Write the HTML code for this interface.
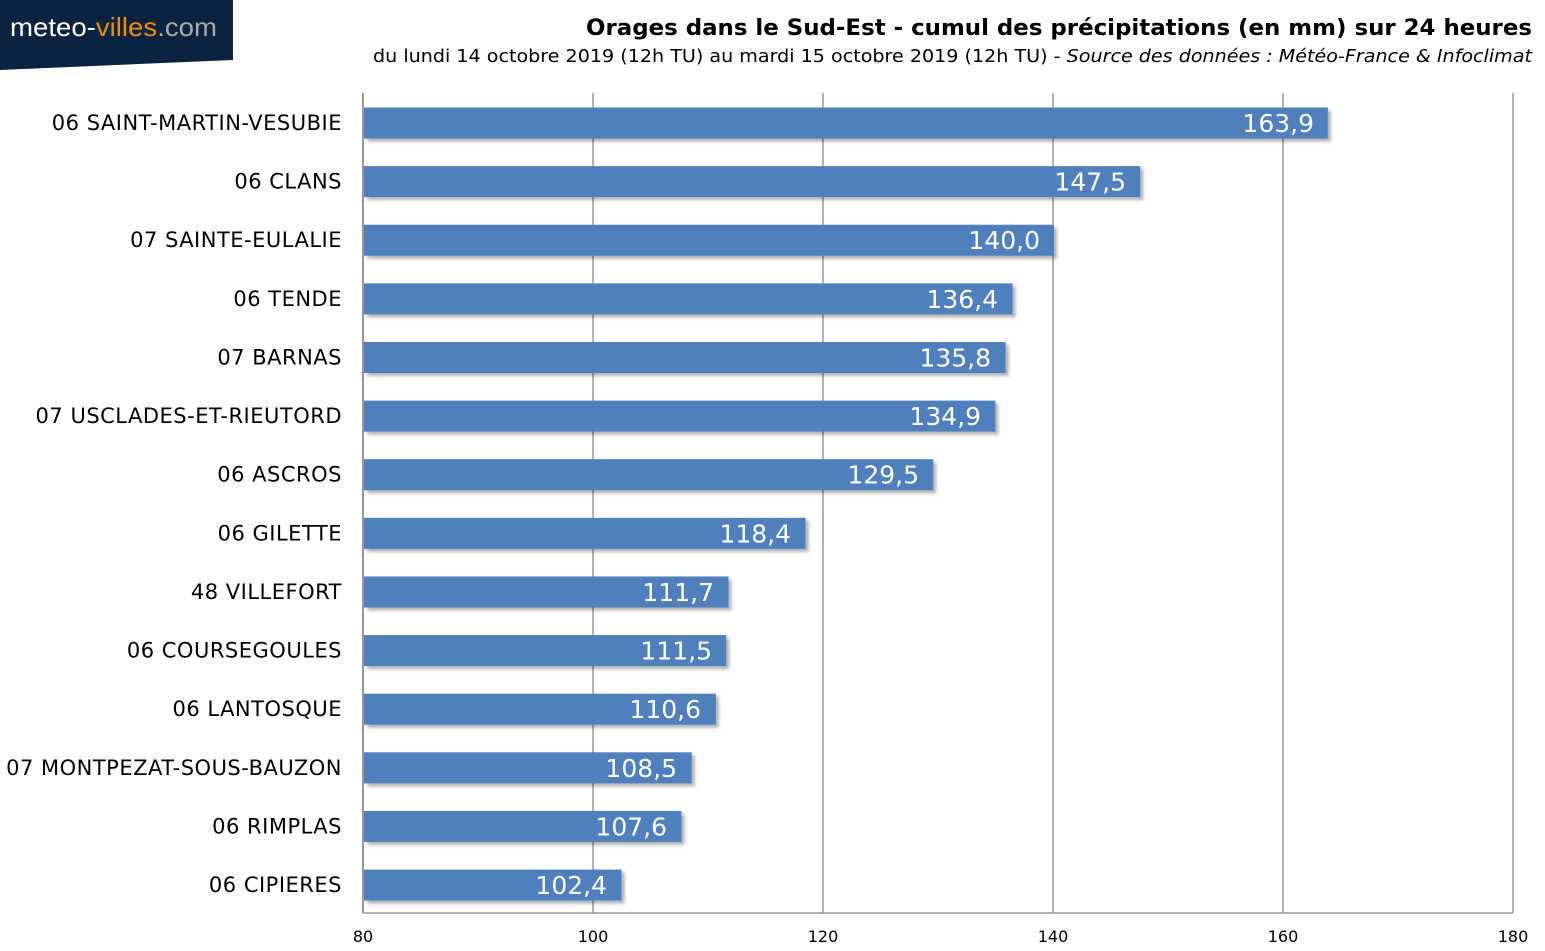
<!DOCTYPE html>
<html><head><meta charset="utf-8"><style>
body{margin:0;background:#fff;}
svg{display:block;font-family:"DejaVu Sans","Liberation Sans",sans-serif;}
</style></head><body>
<svg width="1545" height="951" viewBox="0 0 1545 951" xmlns="http://www.w3.org/2000/svg">
<defs><filter id="sh" x="-5%" y="-20%" width="110%" height="150%"><feDropShadow dx="3" dy="3" stdDeviation="1.5" flood-color="#000" flood-opacity="0.3"/></filter></defs>
<polygon points="0,0 233,0 233,60 0,70" fill="#0b2240"/>
<text x="10" y="36" font-size="26" fill="#fff" font-family="Liberation Sans, sans-serif" textLength="207" lengthAdjust="spacingAndGlyphs">meteo-<tspan fill="#e8900c">villes</tspan><tspan fill="#aaa">.com</tspan></text>
<text x="586" y="35" font-size="22" font-weight="bold" textLength="946" lengthAdjust="spacingAndGlyphs">Orages dans le Sud-Est - cumul des précipitations (en mm) sur 24 heures</text>
<text x="373" y="62" font-size="18" textLength="1159" lengthAdjust="spacingAndGlyphs">du lundi 14 octobre 2019 (12h TU) au mardi 15 octobre 2019 (12h TU) - <tspan font-style="italic">Source des données : Météo-France &amp; Infoclimat</tspan></text>
<g stroke="#999" stroke-width="1.5">
<line x1="593" y1="93" x2="593" y2="913"/><line x1="823" y1="93" x2="823" y2="913"/><line x1="1053" y1="93" x2="1053" y2="913"/><line x1="1283" y1="93" x2="1283" y2="913"/><line x1="1513" y1="93" x2="1513" y2="913"/>
<line x1="363" y1="93" x2="363" y2="913" stroke="#777"/>
<line x1="363" y1="913" x2="1513" y2="913"/>
</g>
<g font-size="16" text-anchor="middle">
<text x="363" y="942">80</text><text x="593" y="942">100</text><text x="823" y="942">120</text><text x="1053" y="942">140</text><text x="1283" y="942">160</text><text x="1513" y="942">180</text>
</g>
<g fill="#4f80bd" filter="url(#sh)">
<rect x="364" y="107.5" width="963.85" height="31"/>
<rect x="364" y="166.12" width="776.25" height="31"/>
<rect x="364" y="224.74" width="690" height="31"/>
<rect x="364" y="283.36" width="648.6" height="31"/>
<rect x="364" y="341.98" width="641.7" height="31"/>
<rect x="364" y="400.6" width="631.35" height="31"/>
<rect x="364" y="459.22" width="569.25" height="31"/>
<rect x="364" y="517.84" width="441.6" height="31"/>
<rect x="364" y="576.46" width="364.55" height="31"/>
<rect x="364" y="635.08" width="362.25" height="31"/>
<rect x="364" y="693.7" width="351.9" height="31"/>
<rect x="364" y="752.32" width="327.75" height="31"/>
<rect x="364" y="810.94" width="317.4" height="31"/>
<rect x="364" y="869.56" width="257.6" height="31"/>
</g>
<g font-size="25" fill="#fff" text-anchor="end">
<text x="1314" y="132">163,9</text>
<text x="1126" y="190.6">147,5</text>
<text x="1040" y="249.2">140,0</text>
<text x="998" y="307.9">136,4</text>
<text x="991" y="366.5">135,8</text>
<text x="981" y="425.1">134,9</text>
<text x="919" y="483.7">129,5</text>
<text x="791" y="542.3">118,4</text>
<text x="714" y="601">111,7</text>
<text x="712" y="659.6">111,5</text>
<text x="701" y="718.2">110,6</text>
<text x="677" y="776.8">108,5</text>
<text x="667" y="835.4">107,6</text>
<text x="607" y="894.1">102,4</text>
</g>
<g font-size="21" text-anchor="end" letter-spacing="0.5">
<text x="342" y="130">06 SAINT-MARTIN-VESUBIE</text>
<text x="342" y="188.6">06 CLANS</text>
<text x="342" y="247.2">07 SAINTE-EULALIE</text>
<text x="342" y="305.9">06 TENDE</text>
<text x="342" y="364.5">07 BARNAS</text>
<text x="342" y="423.1">07 USCLADES-ET-RIEUTORD</text>
<text x="342" y="481.7">06 ASCROS</text>
<text x="342" y="540.3">06 GILETTE</text>
<text x="342" y="599">48 VILLEFORT</text>
<text x="342" y="657.6">06 COURSEGOULES</text>
<text x="342" y="716.2">06 LANTOSQUE</text>
<text x="342" y="774.8">07 MONTPEZAT-SOUS-BAUZON</text>
<text x="342" y="833.4">06 RIMPLAS</text>
<text x="342" y="892.1">06 CIPIERES</text>
</g>
</svg>
</body></html>
